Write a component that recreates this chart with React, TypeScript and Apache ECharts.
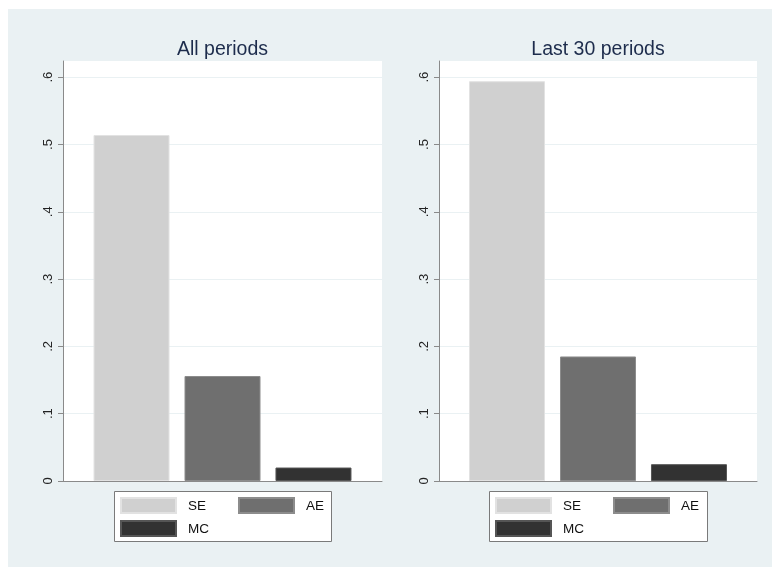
import React, { useEffect, useRef } from "react";
import * as echarts from "echarts";

const seriesNames = ["SE", "AE", "MC"];
const panelTitles = ["All periods", "Last 30 periods"];
const allPeriods = [0.514, 0.156, 0.02];
const last30Periods = [0.594, 0.185, 0.025];
const yTicks = [0, 0.1, 0.2, 0.3, 0.4, 0.5, 0.6];
const yTickLabels = ["0", ".1", ".2", ".3", ".4", ".5", ".6"];

const barColors = ["#d0d0d0", "#6f6f6f", "#323232"];
const barBorders = ["#e2e2e2", "#8c8c8c", "#555555"];

export default function App() {
  const ref = useRef<HTMLDivElement>(null);

  useEffect(() => {
    if (!ref.current) return;
    const chart = echarts.init(ref.current, undefined, { renderer: "svg" });
    const panels = [allPeriods, last30Periods];
    const grids = [
      { left: 63, top: 61, width: 319, height: 420 },
      { left: 439, top: 61, width: 318, height: 420 },
    ];
    const legendOrigins = [
      { x: 114, y: 491, w: 217 },
      { x: 489, y: 491, w: 218 },
    ];

    const labelFor = (v: number) => {
      const idx = yTicks.findIndex((t) => Math.abs(t - v) < 1e-9);
      return idx >= 0 ? yTickLabels[idx] : "";
    };

    const series: any[] = [];
    panels.forEach((vals, p) => {
      seriesNames.forEach((name, i) => {
        series.push({
          type: "bar",
          name,
          xAxisIndex: p,
          yAxisIndex: p,
          data: [vals[i]],
          barWidth: 76,
          barGap: "19.7%",
          itemStyle: { color: barColors[i], borderColor: barBorders[i], borderWidth: 1 },
          emphasis: { disabled: true },
        });
      });
    });

    const legends: any[] = [];
    legendOrigins.forEach((o) => {
      const pos = [
        { name: "SE", left: o.x + 6, top: 497 },
        { name: "AE", left: o.x + 124, top: 497 },
        { name: "MC", left: o.x + 6, top: 520 },
      ];
      pos.forEach((it) => {
        legends.push({
          data: [it.name],
          left: it.left,
          top: it.top,
          padding: 0,
          itemWidth: 55,
          itemHeight: 15,
          icon: "rect",
          selectedMode: false,
          textStyle: {
            fontFamily: "Liberation Sans, Arial, sans-serif",
            fontSize: 13.5,
            color: "#111",
            padding: [0, 0, 0, 7],
          },
        });
      });
    });

    chart.setOption({
      animation: false,
      textStyle: { fontFamily: "Liberation Sans, Arial, sans-serif" },
      graphic: [
        {
          type: "rect",
          shape: { x: 8, y: 9, width: 764, height: 558 },
          style: { fill: "#eaf1f3" },
          z: -10,
          silent: true,
        },
        ...legendOrigins.map((o) => ({
          type: "rect",
          shape: { x: o.x + 0.5, y: o.y + 0.5, width: o.w, height: 50 },
          style: { fill: "#ffffff", stroke: "#7a7a7a", lineWidth: 1 },
          z: -5,
          silent: true,
        })),
      ],
      title: panelTitles.map((t, p) => ({
        text: t,
        left: grids[p].left + grids[p].width / 2,
        top: 38,
        textAlign: "center",
        padding: 0,
        textStyle: {
          fontFamily: "Liberation Sans, Arial, sans-serif",
          fontSize: 19.5,
          fontWeight: "normal",
          color: "#1d2c4c",
        },
      })),
      legend: legends,
      grid: grids.map((g) => ({
        ...g,
        show: true,
        backgroundColor: "#ffffff",
        borderWidth: 0,
        containLabel: false,
      })),
      xAxis: grids.map((_, p) => ({
        type: "category",
        gridIndex: p,
        data: [""],
        axisLine: { show: true, lineStyle: { color: "#8a8a8a", width: 1 } },
        axisTick: { show: false },
        axisLabel: { show: false },
        splitLine: { show: false },
      })),
      yAxis: grids.map((_, p) => ({
        type: "value",
        gridIndex: p,
        min: 0,
        max: 0.624,
        interval: 0.1,
        axisLine: { show: true, lineStyle: { color: "#8a8a8a", width: 1 } },
        axisTick: {
          show: true,
          length: 5,
          lineStyle: { color: "#8a8a8a" },
          customValues: yTicks,
        },
        axisLabel: {
          show: true,
          rotate: 90,
          margin: 9,
          fontSize: 13,
          color: "#222",
          customValues: yTicks,
          formatter: (v: number) => labelFor(v),
        },
        splitLine: { show: true, lineStyle: { color: "#eaf1f3", width: 1 } },
      })),
      series,
    });

    return () => chart.dispose();
  }, []);

  return (
    <div
      ref={ref}
      style={{ position: "fixed", left: 0, top: 0, width: 772, height: 567 }}
    />
  );
}
